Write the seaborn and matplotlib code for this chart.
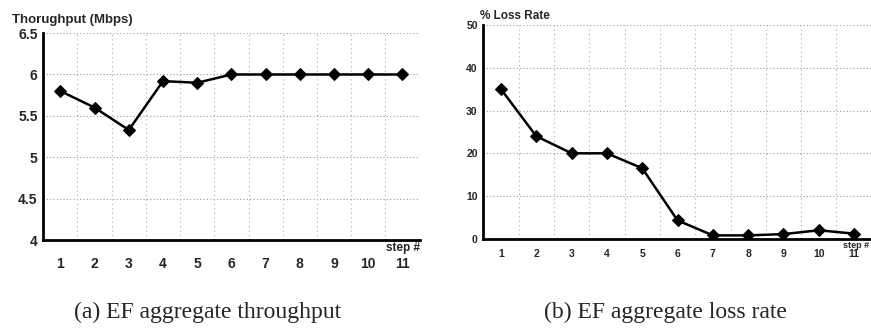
import numpy as np
import pandas as pd
import matplotlib
matplotlib.use("Agg")
import matplotlib.pyplot as plt
import seaborn as sns

steps = [1, 2, 3, 4, 5, 6, 7, 8, 9, 10, 11]
throughput = [5.8, 5.6, 5.33, 5.92, 5.9, 6.0, 6.0, 6.0, 6.0, 6.0, 6.0]
loss_rate = [35, 24, 20, 20, 16.5, 4.3, 0.8, 0.8, 1.1, 2.0, 1.2]
thr_yticks = [4, 4.5, 5, 5.5, 6, 6.5]
loss_yticks = [0, 10, 20, 30, 40, 50]

sns.set_theme(style="white")
plt.rcParams['font.family'] = ['Liberation Sans', 'DejaVu Sans']

fig = plt.figure(figsize=(8.71, 3.34), dpi=100)
ax1 = fig.add_axes([0.0497, 0.281, 0.432, 0.620])
ax2 = fig.add_axes([0.5549, 0.285, 0.446, 0.640])

df = pd.DataFrame({"step": steps, "thr": throughput, "loss": loss_rate})
df["pos"] = np.arange(len(steps))


def style(ax, yticks, ylab, fs, tfs, sfs, title_x, title_y, xpad):
    ax.set_xlim(-0.5, len(steps) - 0.5)
    ax.set_ylim(yticks[0], yticks[-1])
    ax.set_yticks(yticks)
    ax.set_yticklabels([("%g" % t) for t in yticks], fontsize=fs, fontweight='bold')
    ax.set_xticks(np.arange(len(steps)))
    ax.set_xticklabels([str(s) for s in steps], fontsize=fs, fontweight='bold')
    ax.set_xticks(np.arange(len(steps) - 1) + 0.5, minor=True)
    ax.tick_params(axis='x', which='major', length=0, pad=xpad)
    ax.tick_params(axis='x', which='minor', length=3, width=1, direction='in', color='black')
    ax.tick_params(axis='y', which='major', length=0, pad=4)
    for y in yticks[1:]:
        ax.axhline(y, color='#999999', lw=0.8, ls=(0, (1, 2)), zorder=0)
    for x in np.arange(len(steps) - 1) + 0.5:
        ax.axvline(x, color='#aaaaaa', lw=0.8, ls=(0, (1, 3)), zorder=0)
    for s in ['top', 'right']:
        ax.spines[s].set_visible(False)
    for s in ['left', 'bottom']:
        ax.spines[s].set_color('black')
        ax.spines[s].set_linewidth(2)
    ax.set_xlabel("")
    ax.set_ylabel("")
    fig.text(title_x, title_y, ylab, fontsize=tfs, fontweight='bold', ha='left', va='center')
    ax.text(1.0, -0.008, "step #", transform=ax.transAxes, ha='right', va='top',
            fontsize=sfs, fontweight='bold', clip_on=False)


sns.lineplot(data=df, x="pos", y="thr", ax=ax1, color='black', lw=1.8,
             marker='D', markersize=6.5, markeredgecolor='black', markerfacecolor='black')
sns.lineplot(data=df, x="pos", y="loss", ax=ax2, color='black', lw=1.8,
             marker='D', markersize=6, markeredgecolor='black', markerfacecolor='black')

style(ax1, thr_yticks, "Thorughput (Mbps)", 10, 9.5, 8.5, 0.014, 1 - 20 / 334, 12)
style(ax2, loss_yticks, "% Loss Rate", 7.5, 8.5, 6.5, 0.551, 1 - 16 / 334, 7)
ax2.texts[-1].set_x((871 - 2 - ax2.get_position().x0 * 871) / (ax2.get_position().width * 871))

fig.text(208 / 871, 1 - 312 / 334, "(a) EF aggregate throughput", ha='center', va='center',
         fontsize=17, family=['Liberation Serif', 'DejaVu Serif'])
fig.text(665 / 871, 1 - 312 / 334, "(b) EF aggregate loss rate", ha='center', va='center',
         fontsize=17, family=['Liberation Serif', 'DejaVu Serif'])

fig.savefig("out.png", dpi=100)
